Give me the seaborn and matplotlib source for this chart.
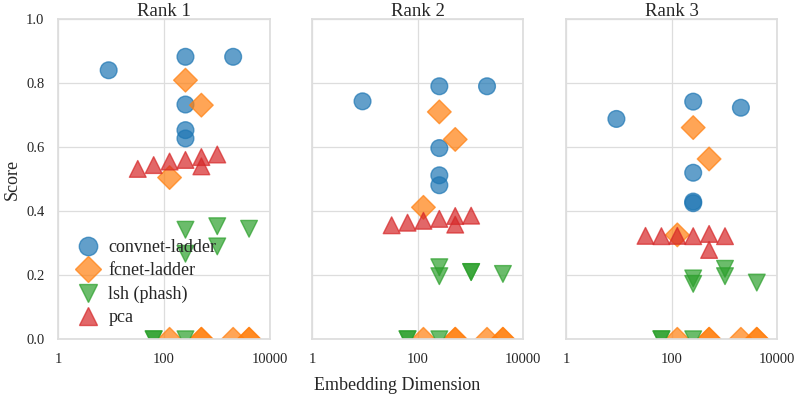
import pandas as pd
import numpy as np
import seaborn as sns
import matplotlib.pyplot as plt

# values
methods = ["convnet-ladder", "fcnet-ladder", "lsh (phash)", "pca"]
ranks = ["Rank 1", "Rank 2", "Rank 3"]

convnet_dims = [9, 256, 2048, 256, 256, 256]
convnet_scores = {
    "Rank 1": [0.84, 0.882, 0.882, 0.733, 0.653, 0.627],
    "Rank 2": [0.743, 0.79, 0.79, 0.597, 0.512, 0.481],
    "Rank 3": [0.688, 0.742, 0.723, 0.52, 0.43, 0.425],
}

fcnet_dims = [128, 256, 512, 128, 512, 512, 2048, 4096, 4096]
fcnet_scores = {
    "Rank 1": [0.505, 0.809, 0.731, 0.0, 0.0, 0.0, 0.0, 0.0, 0.0],
    "Rank 2": [0.412, 0.71, 0.624, 0.0, 0.0, 0.0, 0.0, 0.0, 0.0],
    "Rank 3": [0.326, 0.661, 0.563, 0.0, 0.0, 0.0, 0.0, 0.0, 0.0],
}

lsh_dims = [256, 1024, 4096, 1024, 256, 64, 64, 256]
lsh_scores = {
    "Rank 1": [0.342, 0.353, 0.345, 0.29, 0.267, 0.0, 0.0, 0.0],
    "Rank 2": [0.197, 0.21, 0.204, 0.21, 0.225, 0.0, 0.0, 0.0],
    "Rank 3": [0.173, 0.197, 0.177, 0.22, 0.19, 0.0, 0.0, 0.0],
}

pca_dims = [32, 64, 128, 256, 512, 512, 1024]
pca_scores = {
    "Rank 1": [0.532, 0.544, 0.555, 0.56, 0.569, 0.54, 0.577],
    "Rank 2": [0.356, 0.364, 0.37, 0.376, 0.385, 0.358, 0.386],
    "Rank 3": [0.323, 0.322, 0.323, 0.322, 0.329, 0.279, 0.322],
}

# long form table
rows = []
for name, dims, scores in [
    ("convnet-ladder", convnet_dims, convnet_scores),
    ("fcnet-ladder", fcnet_dims, fcnet_scores),
    ("lsh (phash)", lsh_dims, lsh_scores),
    ("pca", pca_dims, pca_scores),
]:
    for r in ranks:
        for d, s in zip(dims, scores[r]):
            rows.append({"method": name, "rank": r, "dim": d, "score": s})
df = pd.DataFrame(rows)

sns.set_theme(style="whitegrid")
plt.rcParams["font.family"] = ["Liberation Serif", "DejaVu Serif"]

palette = dict(zip(methods, sns.color_palette("tab10", 4)))
markers = {"convnet-ladder": "o", "fcnet-ladder": "D", "lsh (phash)": "v", "pca": "^"}

fig, axes = plt.subplots(1, 3, figsize=(7.95, 3.96), dpi=100, sharey=True)
fig.subplots_adjust(left=0.0733, right=0.9777, top=0.952, bottom=0.1432, wspace=0.2017)

for ax, r in zip(axes, ranks):
    sub = df[df["rank"] == r]
    sns.scatterplot(data=sub, x="dim", y="score", hue="method", style="method",
                    hue_order=methods, style_order=methods, palette=palette,
                    markers=markers, s=145, alpha=0.7, edgecolor="face",
                    linewidth=1, ax=ax, legend=(r == "Rank 1"))
    ax.set_xscale("log")
    ax.set_xlim(1, 10000)
    ax.set_ylim(0, 1)
    ax.set_xticks([1, 100, 10000])
    ax.set_xticklabels(["1", "100", "10000"])
    ax.minorticks_off()
    ax.set_yticks([0, 0.2, 0.4, 0.6, 0.8, 1.0])
    ax.set_title(r, fontsize=13.5, pad=2)
    ax.set_xlabel("")
    ax.set_ylabel("")
    ax.tick_params(labelsize=10.5, pad=4)
    for sp in ax.spines.values():
        sp.set_color("#dddddd")
    ax.grid(color="#dddddd", linewidth=0.9)

axes[0].set_yticklabels(["0.0", "0.2", "0.4", "0.6", "0.8", "1.0"])
axes[0].set_ylabel("Score", fontsize=13)
fig.supxlabel("Embedding Dimension", fontsize=13, y=0.005)

leg = axes[0].legend(loc="lower left", bbox_to_anchor=(-0.02, -0.01), frameon=False,
                     fontsize=13, handletextpad=0.1, labelspacing=0.35, markerscale=1.1)

plt.savefig("out.png", dpi=100)
